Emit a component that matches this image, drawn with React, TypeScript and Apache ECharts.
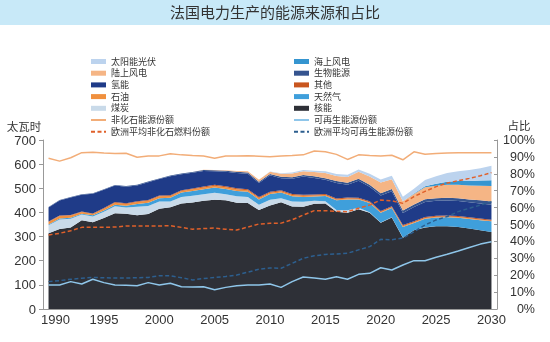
import React, { useEffect, useRef } from "react";
import * as echarts from "echarts";

const years = Array.from({ length: 41 }, (_, i) => String(1990 + i));

const nuclear = [314,331,338,368,359,377,397,395,388,394,415,421,437,441,448,452,450,440,439,410,429,442,425,424,436,437,403,399,413,399,357,379,295,326,338,343,343,340,333,326,319];
const coal = [33,40,36,23,24,26,29,25,36,33,30,24,27,28,27,29,25,27,25,22,24,17,20,20,12,9,7,10,6,2,1.5,1.5,1,0.5,0.3,0,0,0,0,0,0];
const gas = [3,4,4,4,5,5,6,8,11,13,14,16,19,20,21,22,22,22,22,22,23,24,22,20,18,22,40,45,35,38,40,38,44,30,36,36,37,38,40,42,44];
const oil = [10,10,9,7,6,7,8,7,8,8,8,7,6,7,7,8,7,7,6,6,6,5,5,5,4,4,4,4,3,3,3,3,4,3,3,3,3,3,3,3,3];
const other = [2,2,2,2,2,3,3,3,3,3,3,3,3,3,4,4,4,4,4,4,4,4,4,4,4,4,4,4,4,4,4,4,4,4,4,4,4,4,4,4,4];
const hydro = [58,62,73,69,81,76,69,68,66,74,68,79,66,65,65,56,61,63,64,58,68,50,64,76,69,59,64,53,70,60,65,62,50,59,62,62,62,62,62,62,62];
const bio = [2,2,2,2,2,2,2,3,3,3,3,3,3,3,4,4,4,5,5,5,5,6,6,6,7,7,8,8,9,9,9,10,10,10,11,11,12,12,12,13,13];
const onshore = [0,0,0,0,0,0,0,0,0,0,0,0,0,0.5,0.6,1,2.2,4,5.7,7.9,9.9,12,15,16,17,21,21,24,28,34,44,40,38,44,50,52,54,56,58,61,64];
const offshore = [0,0,0,0,0,0,0,0,0,0,0,0,0,0,0,0,0,0,0,0,0,0,0,0,0,0,0,0,0,0,0,0,0.5,2,4,8,12,15,18,21,24];
const solar = [0,0,0,0,0,0,0,0,0,0,0,0,0,0,0,0,0,0,0,0.2,0.6,2,4,4.6,5.9,7.3,8.1,9.1,10,11,12.6,14,18,20,26,31,36,41,46,51,60];

const nonFossilShare = [89.2,87.5,89.5,92.5,92.7,92.3,92.0,92.2,89.8,90.5,90.6,91.8,91.2,90.8,90.5,89.2,90.5,90.5,90.7,90.4,90.1,90.6,90.8,91.2,93.5,93.0,91.5,88.5,91.2,90.8,90.6,91.0,88.3,93.0,91.6,92.0,92.3,92.5,92.5,92.5,92.5];
const renewShare = [14.2,14.2,16.2,14.8,17.6,15.6,14.2,14.0,13.8,15.6,14.2,15.2,13.2,13.0,13.2,11.4,12.8,13.8,14.2,14.2,14.8,12.8,16.2,18.9,18.3,17.6,19.1,17.6,20.5,21.1,24.4,23.1,26.0,28.6,28.6,30.6,32.4,34.3,36.4,38.4,39.8];
const euNonFossil = [43.8,44.8,46.3,48.3,48.3,48.3,48.5,49.1,49.1,49.1,49.1,49.3,48.3,47.2,47.6,47.9,47.2,46.7,48.5,50.3,50.7,50.8,52.8,55.6,58.2,58.2,57.8,57.6,59.6,61.5,64.5,64.0,62.5,66.5,69.6,72.4,74.5,75.9,77.3,78.8,80.7];
const euRenew = [16.2,16.8,17.6,18.2,18.7,18.5,18.3,18.3,18.5,18.7,19.7,19.7,18.5,17.2,18.0,18.7,19.2,20.1,21.8,23.5,24.3,24.1,27.0,30.0,31.5,32.3,32.6,33.0,35.0,36.9,41.2,41.0,42.0,45.7,49.7,52.7,54.7,57.6,59.6,61.5,63.5];

const leftTicks = [0, 700, 100];
const rightTicks = [0, 100, 10];

const areaDefs: [string, number[], string][] = [
  ["核能", nuclear, "#2e3037"],
  ["煤炭", coal, "#c9dae9"],
  ["天然气", gas, "#3f9fdb"],
  ["石油", oil, "#f0903e"],
  ["其他", other, "#c9561f"],
  ["氢能", hydro, "#1f3b88"],
  ["生物能源", bio, "#35548f"],
  ["陆上风电", onshore, "#f5b585"],
  ["海上风电", offshore, "#3595d0"],
  ["太阳能光伏", solar, "#bcd3ee"],
];

const lineDefs: [string, number[], string, string][] = [
  ["非化石能源份额", nonFossilShare, "#f2ad78", "solid"],
  ["可再生能源份额", renewShare, "#8fc6ea", "solid"],
  ["欧洲平均非化石燃料份额", euNonFossil, "#e0602a", "dashed"],
  ["欧洲平均可再生能源份额", euRenew, "#2d5f8f", "dashed"],
];

const leftLegend = ["太阳能光伏", "陆上风电", "氢能", "石油", "煤炭", "非化石能源份额", "欧洲平均非化石燃料份额"];
const rightLegend = ["海上风电", "生物能源", "其他", "天然气", "核能", "可再生能源份额", "欧洲平均可再生能源份额"];

const FONT = "'Liberation Sans', 'Noto Sans CJK SC', sans-serif";

export default function App() {
  const ref = useRef<HTMLDivElement>(null);
  useEffect(() => {
    if (!ref.current) return;
    const chart = echarts.init(ref.current, undefined, { renderer: "svg" });
    const areaNames = areaDefs.map((d) => d[0]);
    const legendData = (names: string[]) =>
      names.map((n) =>
        areaNames.includes(n) ? { name: n, icon: "rect" } : { name: n, itemStyle: { opacity: 0 } }
      );
    const legendCommon = {
      orient: "vertical",
      top: 57,
      padding: 0,
      itemWidth: 15,
      itemHeight: 5,
      itemGap: 2.7,
      selectedMode: false,
      textStyle: { fontSize: 9, color: "#333", fontFamily: FONT },
    };
    const option: any = {
      animation: false,
      textStyle: { fontFamily: FONT },
      graphic: [
        { type: "rect", shape: { x: 0, y: 0, width: 550, height: 25 }, style: { fill: "#c8e9f8" } },
        {
          type: "text", x: 275, y: 12.5,
          style: { text: "法国电力生产的能源来源和占比", fill: "#333", fontSize: 15, fontFamily: FONT, align: "center", verticalAlign: "middle" },
        },
        {
          type: "text", x: 24, y: 127,
          style: { text: "太瓦时", fill: "#333", fontSize: 11.5, fontFamily: FONT, align: "center", verticalAlign: "middle" },
        },
        {
          type: "text", x: 519, y: 126,
          style: { text: "占比", fill: "#333", fontSize: 11.5, fontFamily: FONT, align: "center", verticalAlign: "middle" },
        },
      ],
      legend: [
        { ...legendCommon, left: 90, data: legendData(leftLegend) },
        { ...legendCommon, left: 293, data: legendData(rightLegend) },
      ],
      grid: { left: 43, right: 53, top: 140, bottom: 33 },
      xAxis: {
        type: "category",
        data: years,
        boundaryGap: true,
        axisLine: { lineStyle: { color: "#999" } },
        axisTick: { interval: 0, alignWithLabel: true, length: 3, lineStyle: { color: "#999" } },
        axisLabel: {
          interval: (_i: number, v: string) => Number(v) % 5 === 0,
          color: "#333",
          fontSize: 13,
          margin: 4,
          formatter: (v: string) => (v === "1990" ? "{a|1990}" : v),
          rich: { a: { padding: [0, 0, 0, 14], fontSize: 13, color: "#333" } },
        },
      },
      yAxis: [
        {
          type: "value", min: leftTicks[0], max: leftTicks[1], interval: leftTicks[2],
          axisLine: { show: true, lineStyle: { color: "#999" } },
          axisTick: { show: true, length: 4, lineStyle: { color: "#999" } },
          splitLine: { show: false },
          axisLabel: { color: "#333", fontSize: 13, margin: 7 },
        },
        {
          type: "value", min: rightTicks[0], max: rightTicks[1], interval: rightTicks[2], position: "right",
          axisLine: { show: true, lineStyle: { color: "#999" } },
          axisTick: { show: true, inside: true, length: 3, lineStyle: { color: "#999" } },
          splitLine: { show: false },
          axisLabel: { color: "#333", fontSize: 12.5, formatter: "{value}%", align: "right", margin: 38 },
        },
      ],
      series: [
        ...areaDefs.map(([name, data, color]) => ({
          name, type: "line", stack: "total", data, yAxisIndex: 0,
          symbol: "none", showSymbol: false,
          lineStyle: { width: 0, color },
          itemStyle: { color },
          areaStyle: { color, opacity: 1 },
          emphasis: { disabled: true },
        })),
        ...lineDefs.map(([name, data, color, type]) => ({
          name, type: "line", data, yAxisIndex: 1,
          symbol: "none", showSymbol: false,
          lineStyle: { width: 1.5, color, type: type === "dashed" ? [4, 2.5] : "solid" },
          itemStyle: { color },
          emphasis: { disabled: true },
          z: 3,
        })),
      ],
    };
    chart.setOption(option);
    return () => chart.dispose();
  }, []);
  return <div ref={ref} style={{ position: "fixed", left: 0, top: 0, width: 550, height: 342 }} />;
}
